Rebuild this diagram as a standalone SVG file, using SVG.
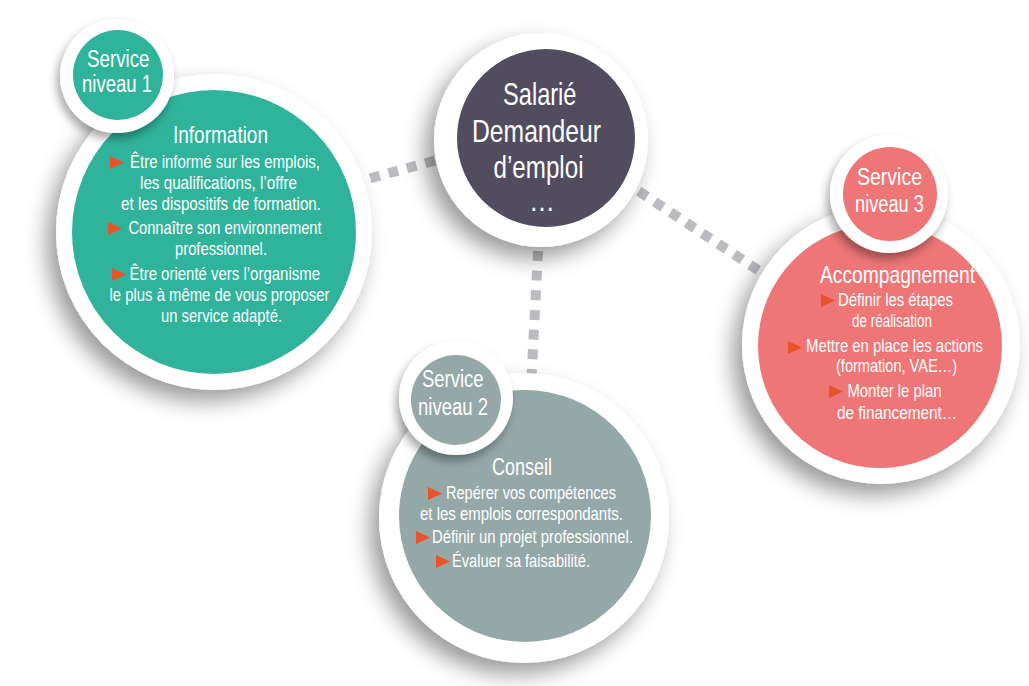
<svg xmlns="http://www.w3.org/2000/svg" width="1029" height="686" viewBox="0 0 1029 686">
<defs>
<filter id="sh" x="-40%" y="-40%" width="180%" height="180%">
<feDropShadow dx="-9" dy="11" stdDeviation="11" flood-color="#000" flood-opacity="0.4"/>
</filter>
<filter id="sh2" x="-40%" y="-40%" width="180%" height="180%">
<feDropShadow dx="-3" dy="6" stdDeviation="5" flood-color="#000" flood-opacity="0.35"/>
</filter>
<polygon id="tri" points="0,0 14,6.5 0,13" fill="#e8532a"/>
</defs>
<style>
.ring{fill:#fff;filter:url(#sh)}
.sring{fill:#fff;filter:url(#sh2)}
.teal{fill:#2fb39a}
.purple{fill:#524c5f}
.pink{fill:#ee7677}
.gray{fill:#95a8a8}
text{font-family:"Liberation Sans",Arial,sans-serif;fill:#fff}
.big{font-size:32px}
.svc{font-size:23px}
.h{font-size:24px}
.b{font-size:18.5px}
.conn{stroke:#8e9096;stroke-opacity:0.6;stroke-width:10;fill:none}
</style>
<rect width="1029" height="686" fill="#fff"/>
<g id="connectors">
<line class="conn" x1="370.2" y1="178.3" x2="470" y2="151" stroke-dasharray="10 9"/>
<line class="conn" x1="607" y1="170.2" x2="860" y2="337.5" stroke-dasharray="10 9.04"/>
<line class="conn" x1="540.2" y1="211.6" x2="530" y2="405" stroke-dasharray="10 9.7"/>
</g>
<g id="node-niveau1">
<circle class="ring" cx="214" cy="232" r="158"/>
<circle class="teal" cx="214" cy="232" r="142"/>
<text class="h" x="173" y="143" textLength="95" lengthAdjust="spacingAndGlyphs">Information</text>
<use href="#tri" x="110" y="156"/>
<text class="b" x="130" y="167.5" textLength="190" lengthAdjust="spacingAndGlyphs">Être informé sur les emplois,</text>
<text class="b" x="140" y="188.5" textLength="157" lengthAdjust="spacingAndGlyphs">les qualifications, l’offre</text>
<text class="b" x="121" y="210" textLength="200" lengthAdjust="spacingAndGlyphs">et les dispositifs de formation.</text>
<use href="#tri" x="108" y="222"/>
<text class="b" x="128.5" y="233.5" textLength="193" lengthAdjust="spacingAndGlyphs">Connaître son environnement</text>
<text class="b" x="175" y="255" textLength="92" lengthAdjust="spacingAndGlyphs">professionnel.</text>
<use href="#tri" x="112" y="268"/>
<text class="b" x="129.5" y="279.5" textLength="190.5" lengthAdjust="spacingAndGlyphs">Être orienté vers l’organisme</text>
<text class="b" x="109.5" y="300.5" textLength="220" lengthAdjust="spacingAndGlyphs">le plus à même de vous proposer</text>
<text class="b" x="161" y="321.5" textLength="121" lengthAdjust="spacingAndGlyphs">un service adapté.</text>
</g>
<g id="node-service1">
<circle class="sring" cx="117" cy="76" r="57"/>
<circle class="teal" cx="118" cy="75" r="45"/>
<text class="svc" x="87" y="67" textLength="62.5" lengthAdjust="spacingAndGlyphs">Service</text>
<text class="svc" x="82" y="92" textLength="70" lengthAdjust="spacingAndGlyphs">niveau 1</text>
</g>
<g id="node-salarie">
<circle class="ring" cx="541" cy="140" r="107"/>
<circle class="purple" cx="546" cy="138" r="89"/>
<text class="big" x="503" y="105" textLength="73.5" lengthAdjust="spacingAndGlyphs">Salarié</text>
<text class="big" x="472" y="142" textLength="129" lengthAdjust="spacingAndGlyphs">Demandeur</text>
<text class="big" x="493.5" y="178" textLength="90" lengthAdjust="spacingAndGlyphs">d’emploi</text>
<text class="big" x="529" y="211" textLength="26" lengthAdjust="spacingAndGlyphs">…</text>
</g>
<g id="node-niveau3">
<circle class="ring" cx="881" cy="345" r="139"/>
<circle class="pink" cx="880" cy="346" r="122"/>
<text class="h" x="820" y="283" textLength="155" lengthAdjust="spacingAndGlyphs">Accompagnement</text>
<use href="#tri" x="821" y="294"/>
<text class="b" x="838" y="306" textLength="115" lengthAdjust="spacingAndGlyphs">Définir les étapes</text>
<text class="b" x="852" y="327" textLength="80" lengthAdjust="spacingAndGlyphs">de réalisation</text>
<use href="#tri" x="788" y="341"/>
<text class="b" x="806" y="352" textLength="177" lengthAdjust="spacingAndGlyphs">Mettre en place les actions</text>
<text class="b" x="836" y="372" textLength="121" lengthAdjust="spacingAndGlyphs">(formation, VAE…)</text>
<use href="#tri" x="829" y="385"/>
<text class="b" x="847.5" y="397" textLength="94" lengthAdjust="spacingAndGlyphs">Monter le plan</text>
<text class="b" x="837" y="418.5" textLength="120" lengthAdjust="spacingAndGlyphs">de financement…</text>
</g>
<g id="node-service3">
<circle class="sring" cx="889" cy="194" r="59"/>
<circle class="pink" cx="890" cy="194" r="47"/>
<text class="svc" x="857" y="185" textLength="65" lengthAdjust="spacingAndGlyphs">Service</text>
<text class="svc" x="855" y="212" textLength="69" lengthAdjust="spacingAndGlyphs">niveau 3</text>
</g>
<g id="node-niveau2">
<circle class="ring" cx="524" cy="518" r="145"/>
<circle class="gray" cx="525" cy="516" r="126"/>
<text class="h" x="492" y="475" textLength="60" lengthAdjust="spacingAndGlyphs">Conseil</text>
<use href="#tri" x="428" y="487"/>
<text class="b" x="446" y="498.5" textLength="170" lengthAdjust="spacingAndGlyphs">Repérer vos compétences</text>
<text class="b" x="420" y="520" textLength="203" lengthAdjust="spacingAndGlyphs">et les emplois correspondants.</text>
<use href="#tri" x="416" y="531"/>
<text class="b" x="432" y="543" textLength="201" lengthAdjust="spacingAndGlyphs">Définir un projet professionnel.</text>
<use href="#tri" x="436" y="555"/>
<text class="b" x="452" y="567" textLength="138" lengthAdjust="spacingAndGlyphs">Évaluer sa faisabilité.</text>
</g>
<g id="node-service2">
<circle class="sring" cx="456" cy="398" r="57"/>
<circle class="gray" cx="456" cy="400" r="45"/>
<text class="svc" x="422" y="387" textLength="61.5" lengthAdjust="spacingAndGlyphs">Service</text>
<text class="svc" x="418" y="415" textLength="70" lengthAdjust="spacingAndGlyphs">niveau 2</text>
</g>
</svg>
